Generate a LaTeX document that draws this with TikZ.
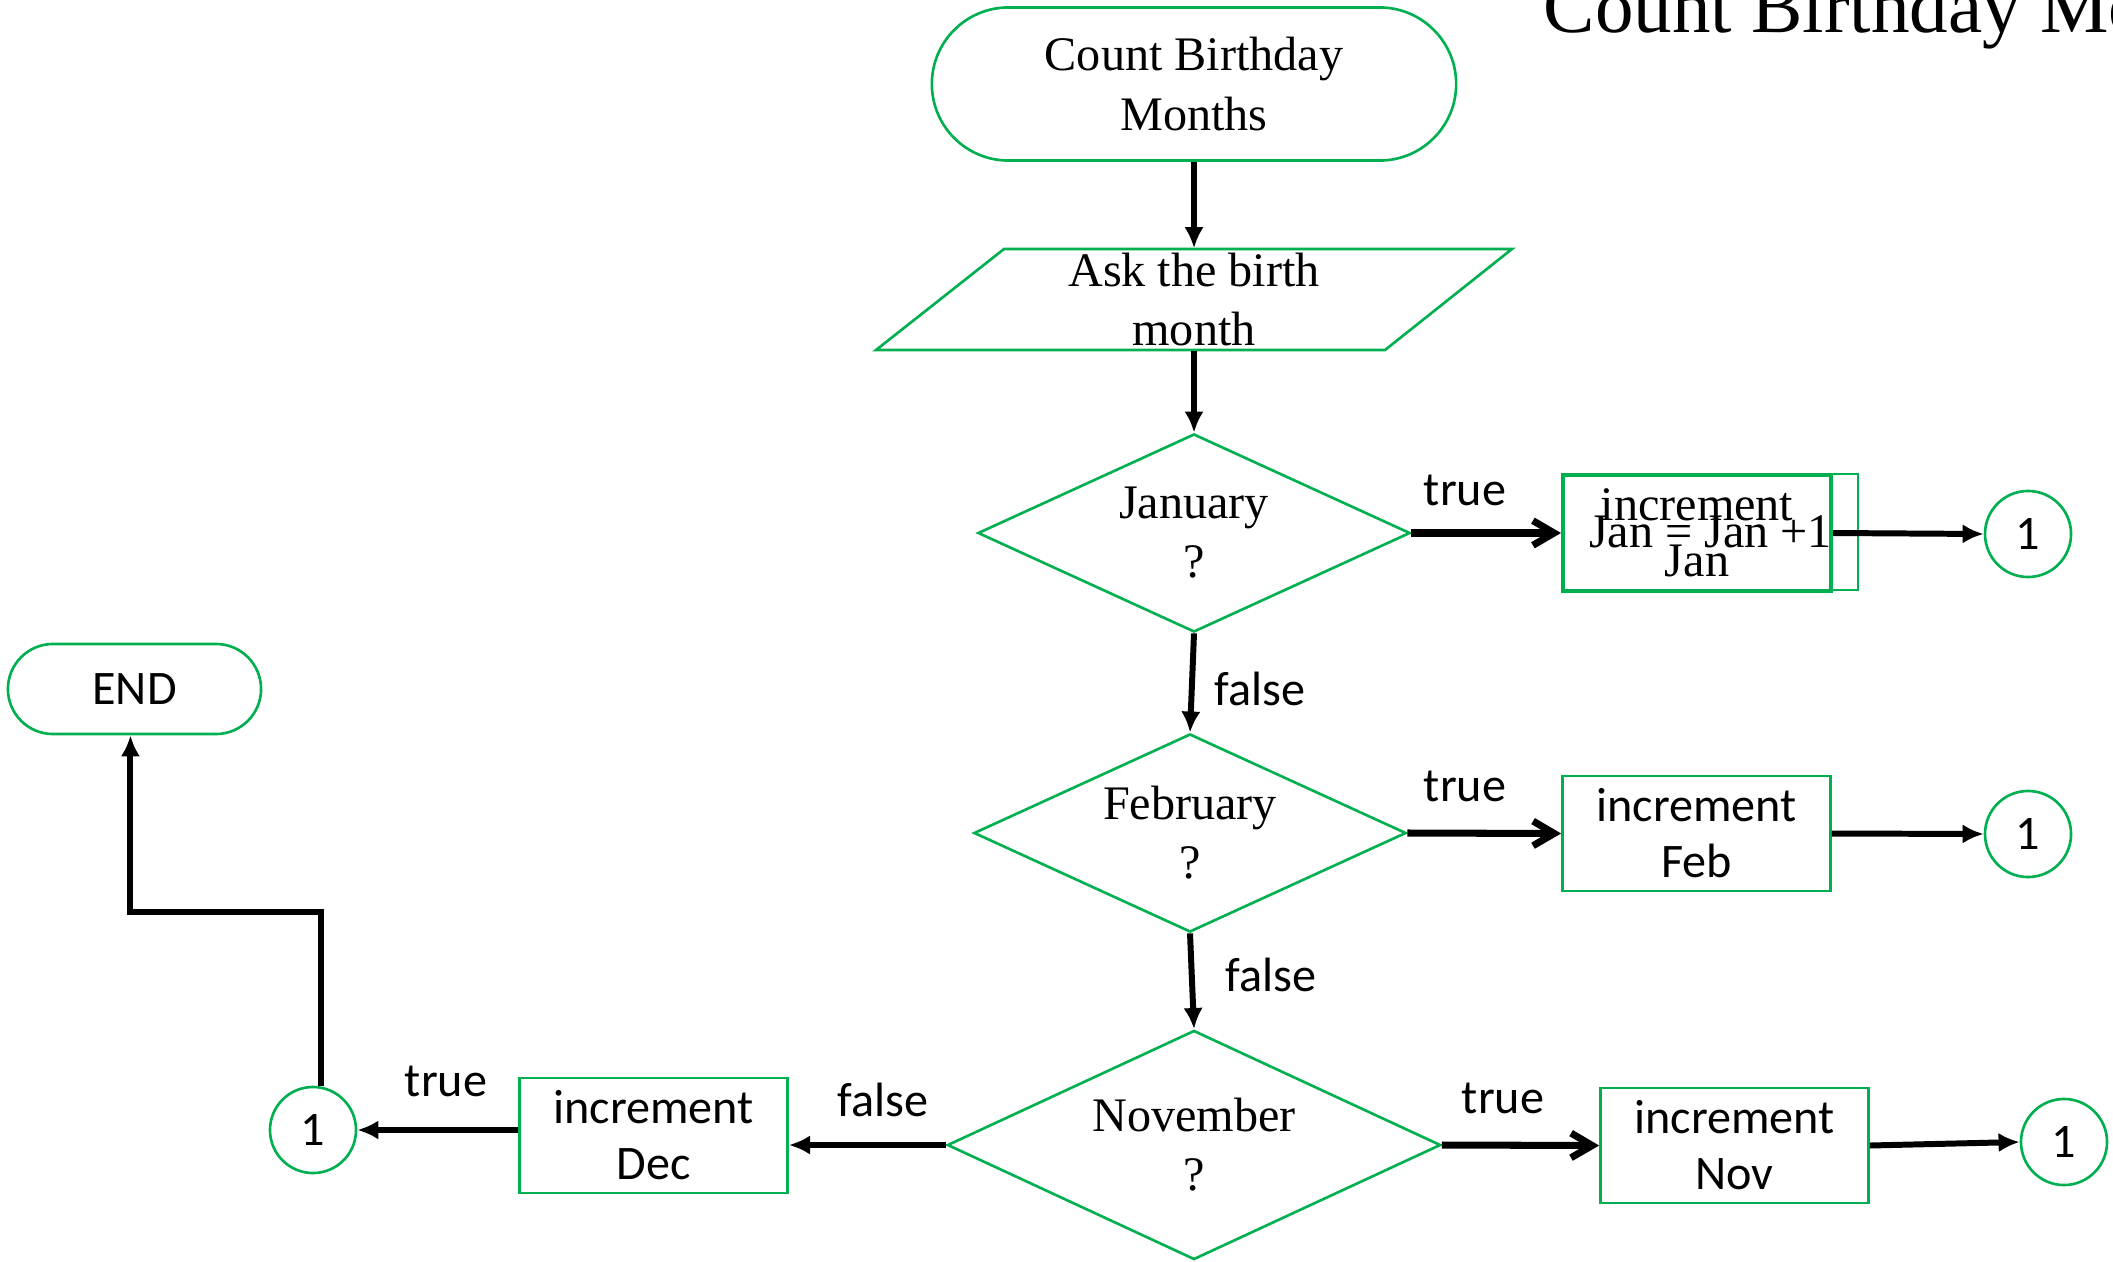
\documentclass[tikz,border=0pt]{standalone}
\usepackage{fontspec}
\setmainfont{Liberation Serif}
\newfontfamily\calfont{Carlito}
\usetikzlibrary{shapes.geometric,shapes.misc,arrows.meta,calc}
\definecolor{flowgreen}{HTML}{00B050}
\begin{document}
\begin{tikzpicture}[x=0.01cm,y=-0.01cm,
  shapeline/.style={draw=flowgreen,line width=0.75pt},
  serif/.style={font=\fontsize{13.7pt}{16.8pt}\selectfont,align=center},
  sanstext/.style={font=\calfont\fontsize{13.7pt}{15.9pt}\selectfont,align=center},
  terminal/.style={shapeline,rounded rectangle,inner sep=0pt},
  decision/.style={shapeline,diamond,aspect=2.2,inner sep=0pt,serif},
  process/.style={shapeline,rectangle,inner sep=0pt,minimum width=2.68cm,minimum height=1.15cm,sanstext},
  connector/.style={shapeline,circle,inner sep=0pt,minimum size=0.86cm,sanstext},
  flow/.style={draw=black,line width=1.7pt,-{Latex[length=6pt,width=5.5pt]}},
  yes/.style={draw=black,line width=2pt,-{Straight Barb[length=6pt,width=7pt]}},
  lbl/.style={sanstext,inner sep=0pt}
]
\useasboundingbox (0,0) rectangle (2113,1261);
\fill[white] (0,0) rectangle (2113,1261);
\clip (0,0) rectangle (2113,1261);

% title (clipped at the top and right)
\node[anchor=base west,inner sep=0pt,font=\fontsize{21.9pt}{26pt}\selectfont] (title) at (1543,33) {Count Birthday Months};

% start
\node[terminal,serif,minimum width=5.24cm,minimum height=1.53cm] (start) at (1194,84) {Count Birthday\\Months};

% input parallelogram
\draw[shapeline] (1004,249) -- (1512,249) -- (1385,350) -- (876,350) -- cycle;
\node[serif,inner sep=0pt,minimum width=2.5cm,minimum height=1.01cm] (ask) at (1194,299.5) {Ask the birth\\month};

% decisions
\node[decision,minimum width=4.32cm,minimum height=1.98cm] (jan) at (1194,533) {January\\?};
\node[decision,minimum width=4.32cm,minimum height=1.98cm] (feb) at (1190,833) {February\\?};
\node[decision,minimum width=4.93cm,minimum height=2.29cm] (nov) at (1194,1145) {November\\?};

% January process (two overlapping boxes)
\node[shapeline,rectangle,inner sep=0pt,minimum width=2.95cm,minimum height=1.16cm,serif] (janbox2) at (1710.5,532) {Jan = Jan +1};
\node[draw=flowgreen,line width=1.1pt,rectangle,inner sep=0pt,minimum width=2.68cm,minimum height=1.16cm,font=\fontsize{13.7pt}{15.9pt}\selectfont,align=center] (janbox) at (1697,533) {increment\\Jan};

% other processes
\node[process] (febbox) at (1696.5,833.5) {increment\\Feb};
\node[process] (novbox) at (1734.5,1145.5) {increment\\Nov};
\node[process] (decbox) at (653.5,1135.5) {increment\\Dec};

% connectors "1"
\node[connector] (c1) at (2028,534) {1};
\node[connector] (c2) at (2028,834) {1};
\node[connector] (c3) at (2064,1142) {1};
\node[connector] (c4) at (313,1130) {1};

% end
\node[terminal,sanstext,minimum width=2.53cm,minimum height=0.90cm] (endn) at (134.5,689) {END};

% flow lines
\draw[flow] (start.south) -- (ask.north);
\draw[flow] (ask.south) -- (jan.north);
\draw[flow] (jan.south) -- (feb.north);
\draw[flow] (feb.south) -- (nov.north);

\draw[yes] (jan.east) -- (janbox.west);
\draw[yes] (feb.east) -- (febbox.west);
\draw[yes] (nov.east) -- (novbox.west);

\draw[flow] (janbox.east) -- (c1.west);
\draw[flow] (febbox.east) -- (c2.west);
\draw[flow] (novbox.east) -- (c3.west);

\draw[flow] (nov.west) -- (decbox.east |- nov.west);
\draw[flow] (decbox.west |- c4.east) -- (c4.east);

\coordinate (bend) at (0,912);
\draw[flow] (c4.80) |- (endn.265 |- bend) -- (endn.265);

% labels
\node[lbl] (t1) at (1465,490) {true};
\node[lbl] (t2) at (1465,786) {true};
\node[lbl] (t3) at (1503,1098) {true};
\node[lbl] (t4) at (446,1081) {true};
\node[lbl] (f1) at (1260,689) {false};
\node[lbl] (f2) at (1271,975) {false};
\node[lbl] (f3) at (883,1100) {false};
\end{tikzpicture}
\end{document}
